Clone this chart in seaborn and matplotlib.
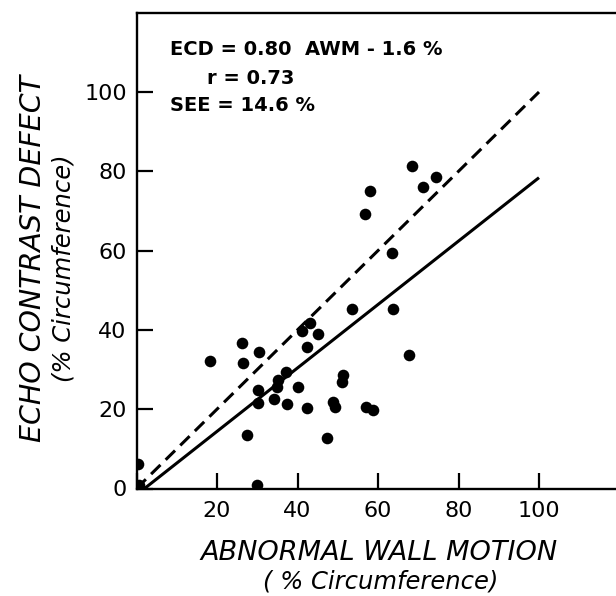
import matplotlib
matplotlib.use("Agg")
import matplotlib.pyplot as plt
import seaborn as sns
import pandas as pd

# ---- data ----
awm = [0.3, 0.6, 30.0, 18.3, 26.1, 26.4, 30.4, 27.4, 30.3, 30.3, 34.2, 35.2,
       34.8, 37.1, 37.3, 40.2, 42.3, 41.0, 43.1, 45.2, 42.3, 47.4, 48.7, 49.3,
       51.0, 51.4, 57.0, 58.8, 53.6, 63.8, 67.8, 63.6, 56.7, 58.0, 68.4, 71.3,
       74.4]
ecd = [6.2, 0.9, 1.0, 32.2, 36.8, 31.7, 34.5, 13.4, 24.8, 21.5, 22.5, 27.4,
       25.7, 29.3, 21.2, 25.7, 20.4, 39.8, 41.7, 38.9, 35.8, 12.8, 21.9, 20.5,
       26.9, 28.6, 20.5, 19.8, 45.3, 45.3, 33.7, 59.3, 69.2, 75.0, 81.4, 76.0,
       78.5]

slope, intercept = 0.80, -1.6
fit_x = [2, 100]
identity_x = [0, 100]

x_ticks = [0, 20, 40, 60, 80, 100]
x_ticklabels = ["", "20", "40", "60", "80", "100"]
y_ticks = [0, 20, 40, 60, 80, 100]
y_ticklabels = ["0", "20", "40", "60", "80", "100"]

ann_lines = ["ECD = 0.80  AWM - 1.6 %", "r = 0.73", "SEE = 14.6 %"]

df = pd.DataFrame({"AWM": awm, "ECD": ecd})

sns.set_style("white")
plt.rcParams["font.family"] = ["DejaVu Sans"]
plt.rcParams["text.color"] = "black"

fig = plt.figure(figsize=(6.16, 5.96), dpi=100)
ax = fig.add_axes([136.5 / 616, 107.5 / 596, 483 / 616, 475.8 / 596])

sns.scatterplot(data=df, x="AWM", y="ECD", ax=ax, color="black", s=70,
                edgecolor="black", linewidth=0, zorder=3, legend=False)

fit_df = pd.DataFrame({"x": fit_x, "y": [slope * v + intercept for v in fit_x]})
sns.lineplot(data=fit_df, x="x", y="y", ax=ax, color="black", lw=2.2,
             solid_capstyle="butt")
id_df = pd.DataFrame({"x": identity_x, "y": identity_x})
sns.lineplot(data=id_df, x="x", y="y", ax=ax, color="black", lw=2.2,
             linestyle=(0, (4.3, 2.4)))

ax.set_xlim(0, 120)
ax.set_ylim(0, 120)
ax.set_xticks(x_ticks)
ax.set_xticklabels(x_ticklabels)
ax.set_yticks(y_ticks)
ax.set_yticklabels(y_ticklabels)
ax.tick_params(direction="in", length=11.5, width=1.6, labelsize=16,
               color="black", labelcolor="black", bottom=True, left=True,
               top=False, right=False)
ax.tick_params(axis="y", pad=7)
ax.tick_params(axis="x", pad=9)

for side in ["left", "bottom", "top"]:
    ax.spines[side].set_visible(True)
    ax.spines[side].set_linewidth(1.7)
    ax.spines[side].set_color("black")
ax.spines["right"].set_visible(False)

ax.set_xlabel("")
ax.set_ylabel("")

ax.text(8.3, 110.6, ann_lines[0], fontsize=14, fontweight="bold",
        va="center", ha="left")
ax.text(17.5, 103.5, ann_lines[1], fontsize=14, fontweight="bold",
        va="center", ha="left")
ax.text(8.3, 96.7, ann_lines[2], fontsize=14, fontweight="bold",
        va="center", ha="left")

fig.text(379 / 616, 1 - 553 / 596, "ABNORMAL WALL MOTION", fontsize=19.5,
         style="italic", ha="center", va="center")
fig.text(381 / 616, 1 - 581 / 596, "( % Circumference)", fontsize=17.5,
         style="italic", ha="center", va="center")
fig.text(33 / 616, 1 - 258 / 596, "ECHO CONTRAST DEFECT", fontsize=20.5,
         style="italic", ha="center", va="center", rotation=90)
fig.text(63 / 616, 1 - 268 / 596, "(% Circumference)", fontsize=17.5,
         style="italic", ha="center", va="center", rotation=90)

fig.savefig("out.png", dpi=100)
